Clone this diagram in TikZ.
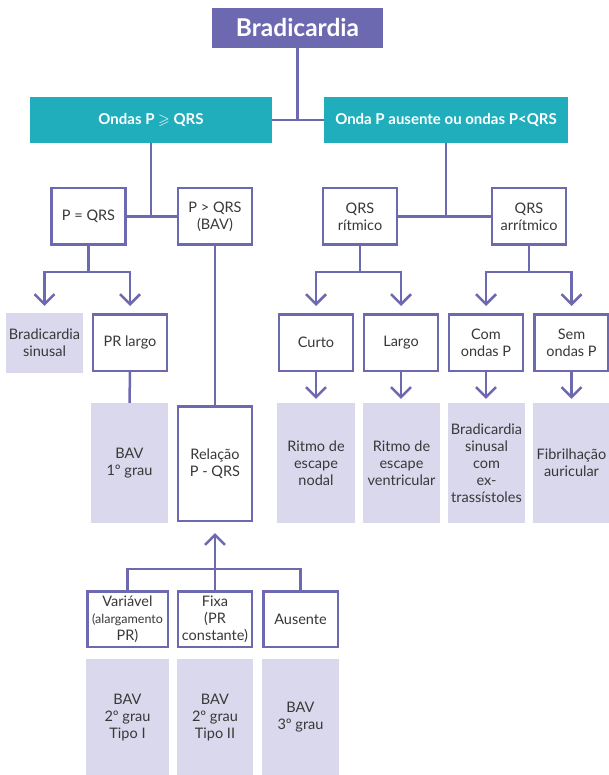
\documentclass[tikz,border=0pt]{standalone}
\usepackage{fontspec}
\usepackage{amssymb}
\setmainfont{Lato}
\usetikzlibrary{arrows.meta}
\definecolor{pur}{HTML}{6D69B1}
\definecolor{lav}{HTML}{DAD8EC}
\definecolor{tealbox}{HTML}{20AEBC}
\definecolor{ink}{HTML}{383838}

\begin{document}
\begin{tikzpicture}[x=1pt,y=-1pt,
  every node/.style={inner sep=0pt, align=center, text=ink,
    font=\fontsize{14.5}{17}\selectfont},
  outl/.style={draw=pur, line width=2.5pt, fill=white,
    minimum width=74pt, minimum height=56.5pt},
  fillb/.style={fill=lav, minimum width=77pt, minimum height=120pt},
  head/.style={fill=tealbox, text=white, minimum height=46pt,
    font=\bfseries\fontsize{15}{17}\selectfont},
  conn/.style={draw=pur, line width=2.5pt},
  arr/.style={conn, -{Straight Barb[length=10pt,width=20pt]}},
]
\useasboundingbox (0,0) rectangle (608,775);

% title and first split
\node[fill=pur, text=white, minimum width=171pt, minimum height=40pt,
  font=\bfseries\fontsize{24.5}{27}\selectfont] (title) at (297.5,28) {Bradicardia};
\node[head, minimum width=242pt] (tl) at (151,120) {Ondas P $\geqslant$ QRS};
\node[head, minimum width=244pt] (tr) at (446,120) {Onda P ausente ou ondas P<QRS};

% second level
\node[outl] (pq) at (88.5,216.5) {P = QRS};
\node[outl] (pg) at (215,216.5) {P > QRS\\(BAV)};
\node[outl] (qr) at (360,216.5) {QRS\\rítmico};
\node[outl] (qa) at (529,216.5) {QRS\\arrítmico};

% third level
\node[fillb, minimum height=60pt] (bs) at (44.5,343) {Bradicardia\\sinusal};
\node[outl] (prl) at (130,342.5) {PR largo};
\node[outl] (cu) at (316,342.5) {Curto};
\node[outl] (la) at (401,342.5) {Largo};
\node[outl] (co) at (486,342.5) {Com\\ondas P};
\node[outl] (se) at (571.5,342.5) {Sem\\ondas P};

% fourth level
\node[fillb] (bav1) at (129.5,463) {BAV\\1º grau};
\node[outl, minimum height=114.5pt] (rel) at (215,463.5) {Relação\\P - QRS};
\node[fillb, minimum width=78pt] (rn) at (316,463) {Ritmo de\\escape\\nodal};
\node[fillb] (rv) at (401.5,463) {Ritmo de\\escape\\ventricular};
\node[fillb] (bsc) at (486.5,463) {Bradicardia\\sinusal\\com\\ex-\\trassístoles};
\node[fillb] (fib) at (571.5,463) {Fibrilhação\\auricular};

% P - QRS relation
\node[outl, minimum width=80.5pt, minimum height=55.5pt] (var) at (127.5,619)
  {Variável\\{\fontsize{12.5}{13}\selectfont(alargamento}\\PR)};
\node[outl, minimum height=55.5pt] (fixa) at (215,619) {Fixa\\(PR\\constante)};
\node[outl, minimum width=74.5pt, minimum height=55.5pt] (aus) at (300.5,619) {Ausente};

\node[fillb, minimum width=83pt, minimum height=117pt] (b2i) at (127.5,717.5) {BAV\\2º grau\\Tipo I};
\node[fillb, minimum width=76pt, minimum height=117pt] (b2ii) at (215,717.5) {BAV\\2º grau\\Tipo II};
\node[fillb, minimum height=117pt] (b3) at (300.5,717.5) {BAV\\3º grau};

% fork heights
\coordinate (f0) at (0,119);
\coordinate (f1) at (0,216.5);
\coordinate (f2) at (0,272);
\coordinate (f3) at (0,569);

% connectors
\draw[conn] (title.south) -- (title.south |- f0);
\draw[conn] (tl.east) -- (tr.west);

\draw[conn] (tl.south) -- (tl.south |- f1);
\draw[conn] (pq.east) -- (pg.west);
\draw[conn] (tr.south) -- (tr.south |- f1);
\draw[conn] (qr.east) -- (qa.west);

\draw[conn] (pq.south) -- (pq.south |- f2);
\draw[arr, shorten >=7pt] (pq.south |- f2) -| (bs.north);
\draw[arr, shorten >=7pt] (pq.south |- f2) -| (prl.north);

\draw[conn] (qr.south) -- (qr.south |- f2);
\draw[arr, shorten >=7pt] (qr.south |- f2) -| (cu.north);
\draw[arr, shorten >=7pt] (qr.south |- f2) -| (la.north);

\draw[conn] (qa.south) -- (qa.south |- f2);
\draw[arr, shorten >=7pt] (qa.south |- f2) -| (co.north);
\draw[arr, shorten >=7pt] (qa.south |- f2) -| (se.north);

\draw[conn] (prl.south) -- (bav1.north);
\draw[conn] (pg.south) -- (rel.north);

\draw[arr, shorten >=4pt] (cu.south) -- (rn.north);
\draw[arr, shorten >=4pt] (la.south) -- (la.south |- rv.north);
\draw[arr, shorten >=4pt] (co.south) -- (co.south |- bsc.north);
\draw[arr, shorten >=4pt] (se.south) -- (fib.north);

\draw[conn] (var.north) |- (aus.north |- f3) -- (aus.north);
\draw[arr, shorten >=11pt] (fixa.north) -- (rel.south);
\end{tikzpicture}
\end{document}
